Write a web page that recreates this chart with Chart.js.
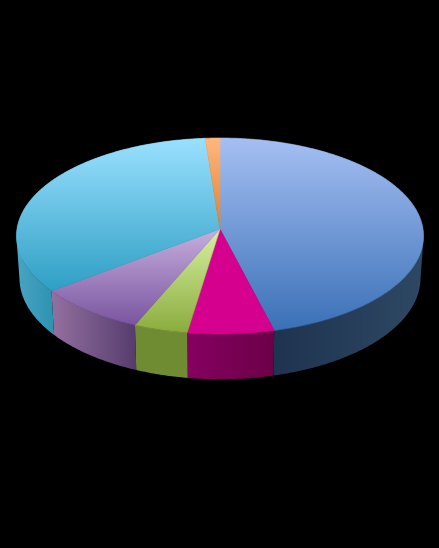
<!DOCTYPE html>
<html>
<head>
<meta charset="utf-8">
<style>
  html, body { margin: 0; padding: 0; background: #000; }
  canvas { display: block; }
</style>
<script src="https://cdn.jsdelivr.net/npm/chart.js@4"></script>
</head>
<body>
<canvas id="pie3d" width="439" height="548"></canvas>
<script>
const categories = ['A', 'B', 'C', 'D', 'E', 'F'];
const shares = [46.0, 6.4, 4.0, 8.2, 34.15, 1.25];

// face shading top -> bottom, wall shading left -> right
const faceLight = ['#a5bff3', '#d6008e', '#d8f0a0', '#c6aede', '#9ae0ff', '#ffb780'];
const faceDark = ['#3a70b6', '#d6008e', '#8aac3e', '#7a559f', '#2e9fc4', '#e08030'];
const wallLeft = ['#1e3350', '#860060', '#6f8c33', '#93709f', '#4aa4c3', '#c06a20'];
const wallRight = ['#2e4864', '#6c0048', '#6f8c33', '#563d6e', '#2f93b2', '#c06a20'];

// perspective of the disc
const view = { cx: 220, cy: 229, rx: 203, ry: 97.5, k: 0.0714, depth: 42, shrink: 0.985 };

function project(a, bottom) {
  const u = Math.cos(a), v = Math.sin(a);
  const w = 1 - view.k * v;
  let x = view.rx * u / w;
  let y = view.cy + view.ry * v / w;
  if (bottom) {
    x *= view.shrink;
    y += view.depth / w;
  }
  return { x: view.cx + x, y: y, v: v };
}

function arcPoints(start, end, bottom) {
  const pts = [];
  const n = Math.max(4, Math.ceil((end - start) * 90));
  for (let i = 0; i <= n; i++) {
    pts.push(project(start + (end - start) * i / n, bottom));
  }
  return pts;
}

function quadArea(q) {
  let s = 0;
  q.forEach((p, i) => {
    const n = q[(i + 1) % q.length];
    s += p.x * n.y - n.x * p.y;
  });
  return s;
}

const disc3d = {
  id: 'disc3d',
  beforeDatasetDraw(chart, args) {
    const ctx = chart.ctx;
    const arcs = chart.getDatasetMeta(args.index).data;

    // side walls first, the top faces cover their back parts
    arcs.forEach((arc, i) => {
      const top = arcPoints(arc.startAngle, arc.endAngle, false);
      const low = arcPoints(arc.startAngle, arc.endAngle, true);
      const front = top.filter(p => p.v > -0.1);
      if (!front.length) return;
      const xs = front.map(p => p.x);
      const g = ctx.createLinearGradient(Math.min(...xs), 0, Math.max(...xs), 0);
      g.addColorStop(0, wallLeft[i]);
      g.addColorStop(1, wallRight[i]);
      // one path, all quads wound the same way, so no seams between them
      ctx.beginPath();
      for (let j = 0; j < top.length - 1; j++) {
        let q = [top[j], top[j + 1], low[j + 1], low[j]];
        if (quadArea(q) < 0) q = q.reverse();
        q.forEach((p, m) => m ? ctx.lineTo(p.x, p.y) : ctx.moveTo(p.x, p.y));
        ctx.closePath();
      }
      ctx.fillStyle = g;
      ctx.fill('nonzero');
    });

    arcs.forEach((arc, i) => {
      const rim = arcPoints(arc.startAngle, arc.endAngle, false);
      const ys = rim.map(p => p.y).concat(view.cy);
      const g = ctx.createLinearGradient(0, Math.min(...ys), 0, Math.max(...ys));
      g.addColorStop(0, faceLight[i]);
      g.addColorStop(1, faceDark[i]);
      ctx.beginPath();
      ctx.moveTo(view.cx, view.cy);
      rim.forEach(p => ctx.lineTo(p.x, p.y));
      ctx.closePath();
      ctx.fillStyle = g;
      ctx.strokeStyle = g;
      ctx.lineWidth = 0.6;
      ctx.fill();
      ctx.stroke();
    });
    return false;
  }
};

new Chart(document.getElementById('pie3d'), {
  type: 'pie',
  data: {
    labels: categories,
    datasets: [{ data: shares, backgroundColor: faceDark, borderWidth: 0 }]
  },
  options: {
    responsive: false,
    animation: false,
    plugins: { legend: { display: false }, tooltip: { enabled: false } }
  },
  plugins: [disc3d]
});
</script>
</body>
</html>
